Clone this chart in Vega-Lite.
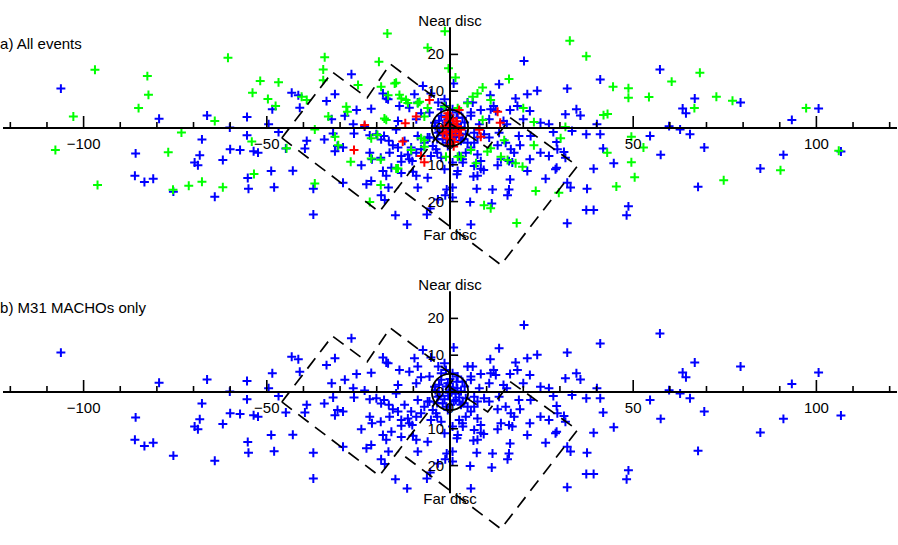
{
"$schema":"https://vega.github.io/schema/vega-lite/v6.json",
"width":898,"height":545,"autosize":{"type":"fit","contains":"padding"},"padding":0,
"config":{"view":{"stroke":null},"axis":{"disable":true},"text":{"font":"Liberation Sans","fontSize":15,"color":"black"}},
"datasets":{
"blue":[
{"x":-106.2,"y":10.7},{"x":-79.4,"y":2.5},{"x":-66.3,"y":3.4},{"x":-55.4,"y":3.0},{"x":-49.5,"y":1.0},{"x":-48.5,"y":5.1},{"x":-43.2,"y":9.6},{"x":-41.4,"y":8.9},{"x":-41,"y":5.5},{"x":-60.1,"y":0.1},{"x":-55.4,"y":-2.0},{"x":-46.8,"y":-1.1},{"x":-67.7,"y":-3.1},{"x":-85.8,"y":-6.9},{"x":-68.3,"y":-7.4},{"x":-60,"y":-5.8},{"x":-57.3,"y":-6.0},{"x":-53.6,"y":-6.3},{"x":-52.4,"y":-6.7},{"x":-44.8,"y":-5.6},{"x":-69.7,"y":-9.4},{"x":-68.8,"y":-10.1},{"x":-62,"y":-8.7},{"x":-86,"y":-13.0},{"x":-83.4,"y":-14.7},{"x":-81,"y":-13.8},{"x":-75.5,"y":-17.3},{"x":-64.2,"y":-18.7},{"x":-55.2,"y":-13.6},{"x":-55,"y":-16.5},{"x":-48.8,"y":-11.7},{"x":-48,"y":-16.1},{"x":-42.9,"y":-11.6},
{"x":57.3,"y":15.9},{"x":41,"y":13.2},{"x":66.8,"y":8.0},{"x":63.5,"y":5.3},{"x":64.4,"y":4.0},{"x":79.3,"y":6.9},{"x":100.6,"y":5.3},{"x":93.3,"y":2.2},{"x":59.8,"y":0.5},{"x":62.8,"y":-0.4},{"x":65.5,"y":-1.7},{"x":54.6,"y":-2.2},{"x":41,"y":-1.7},{"x":41.8,"y":-5.6},{"x":57.5,"y":-7.3},{"x":69.4,"y":-5.3},{"x":44.7,"y":-9.6},{"x":91,"y":-7.3},{"x":106.7,"y":-6.4},{"x":84.7,"y":-11},{"x":67.7,"y":-16},{"x":48.7,"y":-21.3},{"x":48.2,"y":-23.7},
{"x":-26.9,"y":14.6},{"x":-33.7,"y":7.3},{"x":-31.4,"y":9.2},{"x":-28.7,"y":3.3},{"x":-32.3,"y":2.4},{"x":-25.5,"y":4.9},{"x":-21.5,"y":5.2},{"x":-26.4,"y":1.0},{"x":-23.3,"y":0.4},{"x":-18.3,"y":9.4},{"x":-17.4,"y":8.0},{"x":-13.8,"y":6.0},{"x":-11.1,"y":5.5},{"x":-9.7,"y":9.2},{"x":-7.4,"y":11.4},{"x":-8.8,"y":6.9},{"x":-5.2,"y":9.4},{"x":1.0,"y":12.1},{"x":-3.2,"y":6.9},{"x":-7.9,"y":4.0},{"x":-5.6,"y":4.2},{"x":-14.2,"y":1.9},{"x":-14.7,"y":-0.4},{"x":-9.2,"y":2.4},{"x":4.8,"y":6.9},{"x":6.2,"y":6.9},{"x":5.7,"y":4.2},{"x":8.4,"y":4.9},{"x":11,"y":8.9},{"x":13.4,"y":11.9},{"x":11.9,"y":6.0},{"x":12.5,"y":4.6},{"x":14.6,"y":1.9},{"x":15.5,"y":1.0},{"x":16.4,"y":4.9},{"x":17.9,"y":8.0},{"x":18.4,"y":6.0},{"x":20.2,"y":18.2},{"x":21.1,"y":9.2},{"x":23.8,"y":10.1},{"x":21.8,"y":4.6},{"x":20.0,"y":2.4},{"x":24.7,"y":1.4},{"x":27.0,"y":1.0},{"x":28.2,"y":-1.1},{"x":32,"y":10.7},{"x":31.5,"y":3.7},{"x":34.5,"y":5.1},{"x":35.6,"y":3.4},{"x":40.1,"y":1.0},{"x":33.3,"y":-0.8},{"x":37.2,"y":-1.7},{"x":-0.6,"y":2.4},{"x":3.4,"y":2.8},{"x":-2.4,"y":5.1},{"x":-1.1,"y":6.0},
{"x":-39.1,"y":-3.5},{"x":-39.6,"y":-5.6},{"x":-34.3,"y":-3.1},{"x":-31.9,"y":-1.5},{"x":-31.4,"y":-6.3},{"x":-30.7,"y":-4.9},{"x":-29.2,"y":-5.3},{"x":-26.2,"y":-1.5},{"x":-24.2,"y":-10.1},{"x":-21.9,"y":-6.7},{"x":-21.3,"y":-8.5},{"x":-18.9,"y":-8.1},{"x":-21.9,"y":-2.0},{"x":-20.1,"y":-1.7},{"x":-18.8,"y":-3.1},{"x":-18.0,"y":-2.2},{"x":-16.7,"y":-3.5},{"x":-15.6,"y":-4.7},{"x":-14.2,"y":-5.3},{"x":-13.3,"y":-9.2},{"x":-11.5,"y":-7.2},{"x":-10.3,"y":-9.0},{"x":-9.2,"y":-6.7},{"x":-10.6,"y":-5.3},{"x":-7.9,"y":-5.8},{"x":-7.0,"y":-4.0},{"x":-6.1,"y":-2.6},{"x":-4.7,"y":-4.9},{"x":-3.5,"y":-6.7},{"x":-2.4,"y":-8.1},{"x":0.7,"y":-9.4},{"x":2.1,"y":-11.7},{"x":1.9,"y":-12.6},{"x":0.7,"y":-16.2},{"x":-0.9,"y":-16.7},{"x":-1.3,"y":-18.3},{"x":0.7,"y":-18.9},{"x":-8.8,"y":-16.2},{"x":-9.2,"y":-13.0},{"x":-10.1,"y":-11.9},{"x":-21.5,"y":-14.4},{"x":-18.3,"y":-11.7},{"x":-17.4,"y":-13.0},{"x":-16.8,"y":-16.2},{"x":-18.8,"y":-18.3},{"x":-17.8,"y":-19.6},{"x":-22.8,"y":-15.3},{"x":-29.2,"y":-14.9},{"x":-37.3,"y":-16.5},{"x":-37.3,"y":-23.5},{"x":-14.9,"y":-23.7},{"x":-11.7,"y":-26.2},{"x":-6.3,"y":-23.5},{"x":-5.4,"y":-21.9},{"x":-3.3,"y":-19.4},{"x":5.7,"y":-26.2},{"x":5.5,"y":-20.1},{"x":7.3,"y":-16.5},{"x":6.4,"y":-13.2},{"x":8.4,"y":-11.1},{"x":9.2,"y":-11.4},{"x":11.6,"y":-16.7},{"x":11.4,"y":-20.5},{"x":15.7,"y":-18.3},{"x":16.1,"y":-16.7},{"x":16.4,"y":-14.0},{"x":13,"y":-10.1},{"x":13.9,"y":-8.5},{"x":16.1,"y":-9.0},{"x":17,"y":-9.4},{"x":17.5,"y":-6.7},{"x":19.1,"y":-4.7},{"x":18.8,"y":-2.2},{"x":15.2,"y":-4.0},{"x":13,"y":-4.7},{"x":10.7,"y":-2.6},{"x":9.3,"y":-1.7},{"x":6.6,"y":-1.3},{"x":4.8,"y":-4.0},{"x":5.7,"y":-5.3},{"x":4.3,"y":-6.7},{"x":3.4,"y":-8.5},{"x":21.1,"y":-11.7},{"x":21.8,"y":-8.5},{"x":24.7,"y":-6.7},{"x":26.1,"y":-13.8},{"x":27,"y":-7.6},{"x":29.1,"y":-3.8},{"x":29.3,"y":-5.8},{"x":31.1,"y":-6.5},{"x":31.5,"y":-8.1},{"x":29.1,"y":-10.8},{"x":28.8,"y":-11.2},{"x":32,"y":-14.9},{"x":32.9,"y":-16.2},{"x":32,"y":-25.9},{"x":37.4,"y":-16.5},{"x":39.2,"y":-11.1},{"x":37.2,"y":-22.3},{"x":39.2,"y":-22.3},{"x":22,"y":-2.2},
{"x":-16.9,"y":7.8},{"x":-1.5,"y":7.8},{"x":5.7,"y":3.3},{"x":8,"y":1.0},{"x":11.1,"y":5.1},{"x":2.1,"y":4.2},{"x":0.7,"y":5.1},{"x":-2.4,"y":3.3},{"x":-4.2,"y":1.4},{"x":-3.3,"y":-1.3},{"x":-2,"y":-3.1},{"x":-0.6,"y":-4.9},{"x":1.6,"y":-2.2},{"x":3,"y":-3.5},{"x":4.3,"y":-1.7},{"x":6.6,"y":-4.0},{"x":7.5,"y":-2.6},{"x":-5.6,"y":-2.6},{"x":-8.8,"y":-2.2},{"x":-12.4,"y":-3.5},{"x":-16.5,"y":-6.7},{"x":-13.3,"y":-7.6},{"x":-11.1,"y":-8.5},{"x":-5.2,"y":-7.6},{"x":-3.8,"y":-5.8},{"x":2.5,"y":-7.6},{"x":3.5,"y":-9.4},{"x":7.5,"y":-7.2},{"x":8.4,"y":-9.0},{"x":6.6,"y":-10.3},{"x":16.6,"y":-5.8},{"x":13.4,"y":-1.3},{"x":10.7,"y":2.4},{"x":-1.5,"y":-11.2},{"x":7.5,"y":-13},{"x":-6.1,"y":-13.5},{"x":-13.3,"y":-12.2},{"x":-16,"y":-10.8},
{"x":0.5,"y":0.5},{"x":-1,"y":1.5},{"x":1.5,"y":-0.5},{"x":-0.5,"y":-1},{"x":2,"y":1},{"x":-2,"y":0},{"x":1,"y":-2.5},{"x":-1.5,"y":-2},{"x":2.5,"y":-1.5},{"x":0,"y":3.5},{"x":-3,"y":2},{"x":3,"y":0.2},{"x":0.2,"y":-3.5},{"x":-1,"y":-4},{"x":1.8,"y":2.8},{"x":-2.8,"y":-1},{"x":3.5,"y":-3},{"x":-3.5,"y":-3},{"x":4,"y":1.5},{"x":-4,"y":0.5},{"x":0.8,"y":1.2},{"x":-0.3,"y":-0.2}
],
"green":[
{"x":-96.9,"y":15.8},{"x":-82.6,"y":14.1},{"x":-82.3,"y":9.0},{"x":-85,"y":5.4},{"x":-102.8,"y":3.1},{"x":-60.6,"y":19.1},{"x":-51.8,"y":12.8},{"x":-46.8,"y":12.4},{"x":-53.9,"y":9.6},{"x":-49.7,"y":7.9},{"x":-47.6,"y":6.0},{"x":-64.2,"y":1.9},{"x":-73.3,"y":-1.2},{"x":-107.7,"y":-6.0},{"x":-76.9,"y":-6.6},{"x":-54.1,"y":-3.7},{"x":-44.6,"y":-5.5},{"x":-96.2,"y":-15.5},{"x":-75.6,"y":-16.8},{"x":-71.3,"y":-15.7},{"x":-67.7,"y":-14.6},{"x":-62,"y":-16.1},{"x":-53.5,"y":-12.5},
{"x":68.2,"y":15.0},{"x":60.5,"y":12.6},{"x":44.5,"y":11.2},{"x":48.7,"y":10.8},{"x":48.7,"y":8.2},{"x":54.3,"y":8.4},{"x":66.7,"y":5.4},{"x":72.7,"y":8.5},{"x":77.1,"y":7.4},{"x":97.2,"y":5.4},{"x":41.9,"y":3.5},{"x":43,"y":3.8},{"x":49.5,"y":-2.4},{"x":52.8,"y":-5.3},{"x":42.9,"y":-6.7},{"x":49.5,"y":-9.3},{"x":50.4,"y":-13.4},{"x":45.4,"y":-15.9},{"x":74.7,"y":-14.2},{"x":90.2,"y":-11.5},{"x":106.1,"y":-6.2},
{"x":-17.1,"y":25.7},{"x":-1.4,"y":26.3},{"x":-6.1,"y":21.8},{"x":-34.2,"y":19.2},{"x":-34.6,"y":15.9},{"x":-34.6,"y":13},{"x":-19.4,"y":18.0},{"x":-0.4,"y":16.2},{"x":1.5,"y":13.7},{"x":32.7,"y":23.7},{"x":37.2,"y":19.5},{"x":16.1,"y":13.3},{"x":8.9,"y":11.0},{"x":7.5,"y":9.4},{"x":6.2,"y":8.5},{"x":11.1,"y":7.6},{"x":4.8,"y":6.7},{"x":-14.7,"y":12.3},{"x":-16.9,"y":8.9},{"x":-13.3,"y":8.0},{"x":-11.5,"y":6.8},{"x":-8.3,"y":7.1},{"x":-28.3,"y":5.8},{"x":-28,"y":4.4},{"x":-17.9,"y":2.6},{"x":-36.9,"y":-0.4},{"x":-31.4,"y":-2.4},{"x":-21.5,"y":-2.8},{"x":-19.8,"y":-1.9},{"x":-27.1,"y":-9.2},{"x":-21.5,"y":-8.3},{"x":-18.9,"y":-8.6},{"x":-30.5,"y":-4.7},{"x":-36.9,"y":-15.1},{"x":-21.9,"y":-20.1},{"x":-18.9,"y":-15.5},{"x":-14.7,"y":-11.0},{"x":-7,"y":-5.1},{"x":2.1,"y":-7.8},{"x":7.1,"y":-9.6},{"x":10.2,"y":-6.4},{"x":13.9,"y":-7.8},{"x":14.8,"y":-3.3},{"x":17.9,"y":-9.6},{"x":19.8,"y":-10.5},{"x":20,"y":5.4},{"x":22.9,"y":1.6},{"x":22.9,"y":-4.7},{"x":30.2,"y":-2.8},{"x":31.5,"y":0.3},{"x":29.7,"y":-17.6},{"x":23.4,"y":-17.1},{"x":9.3,"y":-21},{"x":11.1,"y":-21.8},{"x":18.2,"y":-25.8},{"x":-39.1,"y":7.6},
{"x":-40.5,"y":8.5},{"x":-25.1,"y":11.7},{"x":-18.8,"y":11.2},{"x":-33.2,"y":3.1},{"x":-7.9,"y":-2.8},
{"x":-15.1,"y":12.1},{"x":-13.8,"y":9.0},{"x":-12,"y":7.6},{"x":-8.8,"y":6.7},{"x":-7,"y":3.1},{"x":-6.1,"y":5.4},{"x":2.1,"y":5.4},{"x":8.9,"y":2.2},{"x":5.7,"y":-6},{"x":3,"y":-7.8},{"x":-7,"y":-3.3},{"x":-10.6,"y":-6},{"x":-14.2,"y":-11},{"x":-17.4,"y":2.2},{"x":11.1,"y":-5.5},{"x":15.7,"y":-8.7},{"x":-1.5,"y":5.8},{"x":-1.1,"y":-7.8}
],
"red":[
{"x":-5.6,"y":7.6},{"x":-9.2,"y":3.1},{"x":-12.2,"y":1.3},{"x":-23.3,"y":0.8},{"x":-12.9,"y":-3.7},{"x":-26.2,"y":-6.0},{"x":-7.9,"y":-7.6},{"x":-7.0,"y":-9.3},{"x":2.5,"y":4.9},{"x":13,"y":4.4},{"x":13.7,"y":1.4},{"x":8,"y":-0.5},{"x":8.4,"y":-2.4},{"x":-0.6,"y":4.0},
{"x":0,"y":0},{"x":1,"y":1},{"x":-1,"y":-1},{"x":0.5,"y":-2},{"x":-0.5,"y":2},{"x":1.5,"y":-1},{"x":2,"y":0.5},{"x":-1.5,"y":0.5},{"x":0.3,"y":-3},{"x":1.2,"y":-3.8},{"x":-0.8,"y":-2.8},{"x":2.5,"y":-2},{"x":0.8,"y":2.5},{"x":-2,"y":-1.5},{"x":1.8,"y":1.8},{"x":0,"y":-4.5},{"x":1,"y":-5},{"x":-1,"y":3},{"x":3,"y":-0.5},{"x":-0.3,"y":1},{"x":0.6,"y":-1},{"x":1.4,"y":0.2}
],
"shapes":[
{"s":"L","i":0,"x":-45.9,"y":-2.7},{"s":"L","i":1,"x":-32.1,"y":15.2},{"s":"L","i":2,"x":-22.6,"y":8.2},{"s":"L","i":3,"x":-16.3,"y":17.4},{"s":"L","i":4,"x":1.4,"y":4.1},{"s":"L","i":5,"x":-19.3,"y":-22.8},{"s":"L","i":6,"x":-45.9,"y":-2.7},
{"s":"R","i":0,"x":-0.5,"y":1.6},{"s":"R","i":1,"x":10.3,"y":-5.4},{"s":"R","i":2,"x":16.6,"y":2.7},{"s":"R","i":3,"x":34.8,"y":-10.3},{"s":"R","i":4,"x":13.9,"y":-37.2},{"s":"R","i":5,"x":-14.2,"y":-16.1}
],
"xminor":[{"v":-120},{"v":-110},{"v":-90},{"v":-80},{"v":-70},{"v":-60},{"v":-40},{"v":-30},{"v":-20},{"v":-10},{"v":10},{"v":20},{"v":30},{"v":40},{"v":60},{"v":70},{"v":80},{"v":90},{"v":110},{"v":120}],
"xmajor":[{"v":-100},{"v":-50},{"v":50},{"v":100}],
"yticks":[{"v":-20},{"v":-10},{"v":10},{"v":20}],
"xlabels":[{"v":-100,"t":"−100"},{"v":-50,"t":"−50"},{"v":0,"t":"0"},{"v":50,"t":"50"},{"v":100,"t":"100"}],
"ylabels":[{"v":20,"t":"20"},{"v":10,"t":"10"},{"v":0,"t":"0"},{"v":-10,"t":"10"},{"v":-20,"t":"20"}]
},
"layer":[
{"layer":[
{"data":{"name":"blue"},"mark":{"type":"point","shape":"M-1,0L1,0M0,-1L0,1","filled":false,"size":80,"strokeWidth":2,"color":"#0000ff","opacity":1},
 "encoding":{"x":{"field":"x","type":"quantitative","scale":{"domain":[-122,122],"nice":false,"zero":false}},"y":{"field":"y","type":"quantitative","scale":{"domain":[-113.32,34.78],"nice":false,"zero":false}}}},
{"data":{"name":"green"},"mark":{"type":"point","shape":"M-1,0L1,0M0,-1L0,1","filled":false,"size":80,"strokeWidth":2,"color":"#00ff00","opacity":1},
 "encoding":{"x":{"field":"x","type":"quantitative"},"y":{"field":"y","type":"quantitative"}}},
{"data":{"name":"red"},"mark":{"type":"point","shape":"M-1,0L1,0M0,-1L0,1","filled":false,"size":80,"strokeWidth":2,"color":"#ff0000","opacity":1},
 "encoding":{"x":{"field":"x","type":"quantitative"},"y":{"field":"y","type":"quantitative"}}},
{"data":{"name":"shapes"},"mark":{"type":"line","strokeDash":[13,8],"strokeWidth":1.7,"color":"black"},
 "encoding":{"x":{"field":"x","type":"quantitative"},"y":{"field":"y","type":"quantitative"},"detail":{"field":"s"},"order":{"field":"i","type":"quantitative"}}},
{"data":{"values":[{}]},"mark":{"type":"rule","strokeWidth":2,"color":"black"},
 "encoding":{"x":{"datum":-122,"type":"quantitative"},"x2":{"datum":122},"y":{"datum":0,"type":"quantitative"}}},
{"data":{"values":[{}]},"mark":{"type":"rule","strokeWidth":2,"color":"black"},
 "encoding":{"x":{"datum":0,"type":"quantitative"},"y":{"datum":-27.5,"type":"quantitative"},"y2":{"datum":27.4}}},
{"data":{"name":"xminor"},"mark":{"type":"rule","strokeWidth":1.6,"color":"black"},
 "encoding":{"x":{"field":"v","type":"quantitative"},"y":{"datum":0,"type":"quantitative"},"y2":{"datum":1.63}}},
{"data":{"name":"xmajor"},"mark":{"type":"rule","strokeWidth":1.6,"color":"black"},
 "encoding":{"x":{"field":"v","type":"quantitative"},"y":{"datum":0,"type":"quantitative"},"y2":{"datum":3.26}}},
{"data":{"name":"yticks"},"mark":{"type":"rule","strokeWidth":1.6,"color":"black"},
 "encoding":{"x":{"datum":0,"type":"quantitative"},"x2":{"datum":2.2},"y":{"field":"v","type":"quantitative"}}},
{"data":{"values":[{}]},"mark":{"type":"point","shape":"circle","filled":false,"size":1320,"strokeWidth":1.8,"color":"black","opacity":1},
 "encoding":{"x":{"datum":0,"type":"quantitative"},"y":{"datum":0,"type":"quantitative"}}},
{"data":{"name":"xlabels"},"mark":{"type":"text","align":"center","baseline":"top"},
 "encoding":{"x":{"field":"v","type":"quantitative"},"y":{"datum":-2.4,"type":"quantitative"},"text":{"field":"t"}}},
{"data":{"name":"ylabels"},"mark":{"type":"text","align":"right","baseline":"middle"},
 "encoding":{"x":{"datum":-1.6,"type":"quantitative"},"y":{"field":"v","type":"quantitative"},"text":{"field":"t"}}},
{"data":{"values":[{}]},"mark":{"type":"text","align":"center","baseline":"alphabetic"},
 "encoding":{"x":{"datum":0,"type":"quantitative"},"y":{"datum":27.7,"type":"quantitative"},"text":{"value":"Near disc"}}},
{"data":{"values":[{}]},"mark":{"type":"text","align":"center","baseline":"top"},
 "encoding":{"x":{"datum":0,"type":"quantitative"},"y":{"datum":-27.2,"type":"quantitative"},"text":{"value":"Far disc"}}},
{"data":{"values":[{}]},"mark":{"type":"text","align":"left","baseline":"alphabetic"},
 "encoding":{"x":{"datum":-122.8,"type":"quantitative"},"y":{"datum":21.6,"type":"quantitative"},"text":{"value":"a) All events"}}}
]},
{"layer":[
{"data":{"name":"blue"},"mark":{"type":"point","shape":"M-1,0L1,0M0,-1L0,1","filled":false,"size":80,"strokeWidth":2,"color":"#0000ff","opacity":1},
 "encoding":{"x":{"field":"x","type":"quantitative"},"y":{"field":"y","type":"quantitative","scale":{"domain":[-41.58,106.52],"nice":false,"zero":false}}}},
{"data":{"name":"shapes"},"mark":{"type":"line","strokeDash":[13,8],"strokeWidth":1.7,"color":"black"},
 "encoding":{"x":{"field":"x","type":"quantitative"},"y":{"field":"y","type":"quantitative"},"detail":{"field":"s"},"order":{"field":"i","type":"quantitative"}}},
{"data":{"values":[{}]},"mark":{"type":"rule","strokeWidth":2,"color":"black"},
 "encoding":{"x":{"datum":-122,"type":"quantitative"},"x2":{"datum":122},"y":{"datum":0,"type":"quantitative"}}},
{"data":{"values":[{}]},"mark":{"type":"rule","strokeWidth":2,"color":"black"},
 "encoding":{"x":{"datum":0,"type":"quantitative"},"y":{"datum":-27.5,"type":"quantitative"},"y2":{"datum":27.4}}},
{"data":{"name":"xminor"},"mark":{"type":"rule","strokeWidth":1.6,"color":"black"},
 "encoding":{"x":{"field":"v","type":"quantitative"},"y":{"datum":0,"type":"quantitative"},"y2":{"datum":1.63}}},
{"data":{"name":"xmajor"},"mark":{"type":"rule","strokeWidth":1.6,"color":"black"},
 "encoding":{"x":{"field":"v","type":"quantitative"},"y":{"datum":0,"type":"quantitative"},"y2":{"datum":3.26}}},
{"data":{"name":"yticks"},"mark":{"type":"rule","strokeWidth":1.6,"color":"black"},
 "encoding":{"x":{"datum":0,"type":"quantitative"},"x2":{"datum":2.2},"y":{"field":"v","type":"quantitative"}}},
{"data":{"values":[{}]},"mark":{"type":"point","shape":"circle","filled":false,"size":1320,"strokeWidth":1.8,"color":"black","opacity":1},
 "encoding":{"x":{"datum":0,"type":"quantitative"},"y":{"datum":0,"type":"quantitative"}}},
{"data":{"name":"xlabels"},"mark":{"type":"text","align":"center","baseline":"top"},
 "encoding":{"x":{"field":"v","type":"quantitative"},"y":{"datum":-2.4,"type":"quantitative"},"text":{"field":"t"}}},
{"data":{"name":"ylabels"},"mark":{"type":"text","align":"right","baseline":"middle"},
 "encoding":{"x":{"datum":-1.6,"type":"quantitative"},"y":{"field":"v","type":"quantitative"},"text":{"field":"t"}}},
{"data":{"values":[{}]},"mark":{"type":"text","align":"center","baseline":"alphabetic"},
 "encoding":{"x":{"datum":0,"type":"quantitative"},"y":{"datum":27.7,"type":"quantitative"},"text":{"value":"Near disc"}}},
{"data":{"values":[{}]},"mark":{"type":"text","align":"center","baseline":"top"},
 "encoding":{"x":{"datum":0,"type":"quantitative"},"y":{"datum":-27.2,"type":"quantitative"},"text":{"value":"Far disc"}}},
{"data":{"values":[{}]},"mark":{"type":"text","align":"left","baseline":"alphabetic"},
 "encoding":{"x":{"datum":-122.8,"type":"quantitative"},"y":{"datum":21.6,"type":"quantitative"},"text":{"value":"b) M31 MACHOs only"}}}
]}
],
"resolve":{"scale":{"y":"independent"}}
}
